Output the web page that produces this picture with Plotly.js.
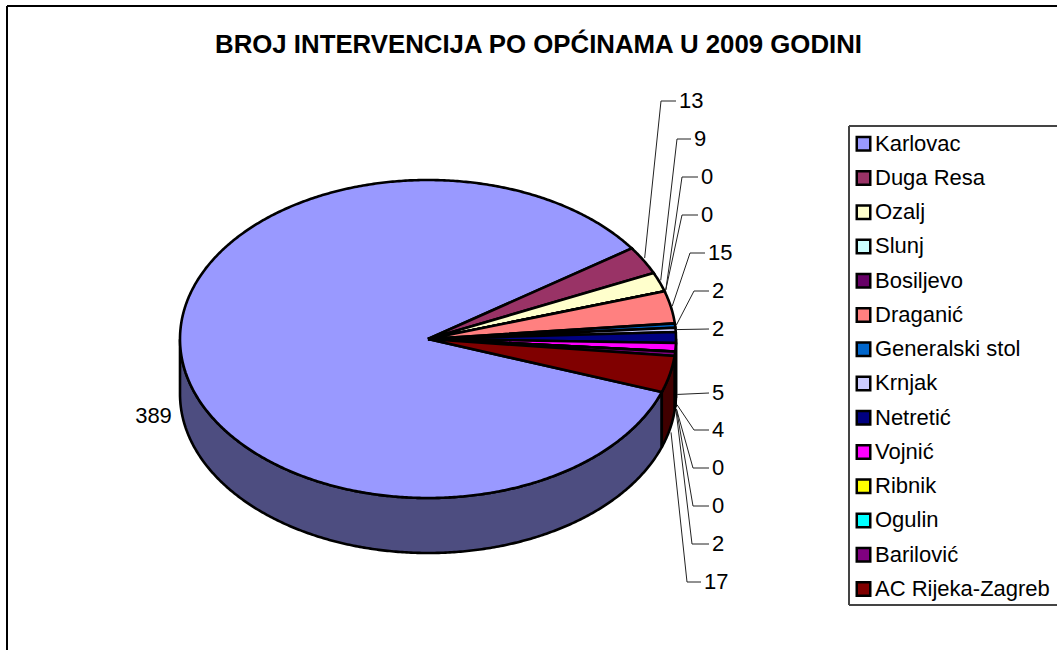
<!DOCTYPE html>
<html>
<head>
<meta charset="utf-8">
<script src="https://cdn.plot.ly/plotly-3.0.1.min.js"></script>
<style>html,body{margin:0;padding:0;background:#fff;overflow:hidden}#chart{width:1057px;height:650px}</style>
</head>
<body>
<div id="chart"></div>
<script>
const chartTitle = 'BROJ INTERVENCIJA PO OPĆINAMA U 2009 GODINI';
const categories = ['Karlovac','Duga Resa','Ozalj','Slunj','Bosiljevo','Draganić','Generalski stol','Krnjak','Netretić','Vojnić','Ribnik','Ogulin','Barilović','AC Rijeka-Zagreb'];
const values = [389,13,9,0,0,15,2,2,5,4,0,0,2,17];
const colors = ['#9999FF','#993366','#FFFFCC','#CCFFFF','#660066','#FF8080','#0066CC','#CCCCFF','#000080','#FF00FF','#FFFF00','#00FFFF','#800080','#800000'];
const wallColors = ['#4D4D80','#4D1A33','#808066','#668080','#330033','#804040','#003366','#666680','#000040','#800080','#808000','#008080','#400040','#400000'];

// Geometry of the tilted pie (screen pixels)
const cx = 428, cy = 339, rx = 248, ry = 159, depth = 55, startDeg = -19.5;
// Label placement: end of stub, elbow, and row per slice (Karlovac handled separately)
const labelRows  = [null,101,139,177,215,253,291,329,393,430,468,506,544,582];
const stubEnds   = [null,676,691,698,698,705,709,709,709,709,709,709,709,701];
const elbows     = [null,661,677,682,682,690,694,694,694,694,693,693,692,687];
const labelGap = 3, textDrop = 1.5;
const textFamily = 'Liberation Sans, Arial, sans-serif';

const rad = d => d * Math.PI / 180;
const px = (t, k=1) => cx + rx * k * Math.cos(rad(t));
const py = (t, k=1) => cy - ry * k * Math.sin(rad(t));

const total = values.reduce((a,b)=>a+b,0);
const spans = [];
let cursor = startDeg;
values.forEach(v => { const next = cursor - v / total * 360; spans.push([cursor,next]); cursor = next; });

function arc(a,b){
  const out=[]; const n=Math.max(1,Math.ceil(Math.abs(a-b)*2));
  for(let i=0;i<=n;i++) out.push(a+(b-a)*i/n);
  return out;
}
const traces=[];
const base={type:'scatter',mode:'lines',fill:'toself',hoverinfo:'skip',showlegend:false,xaxis:'x',yaxis:'y'};
const edge={color:'#000',width:2.6,simplify:false};

// side walls
spans.forEach((s,i)=>{
  const vis=arc(s[0],s[1]).filter(t=>Math.sin(rad(t))<=0.001);
  if(vis.length<2) return;
  const xs=vis.map(t=>px(t)), ys=vis.map(t=>py(t));
  const xb=vis.slice().reverse().map(t=>px(t)), yb=vis.slice().reverse().map(t=>py(t)+depth);
  traces.push(Object.assign({},base,{name:categories[i]+' wall',
    x:xs.concat(xb,[xs[0]]),y:ys.concat(yb,[ys[0]]),fillcolor:wallColors[i],line:edge}));
});
// top faces
spans.forEach((s,i)=>{
  const t=arc(s[0],s[1]);
  traces.push(Object.assign({},base,{name:categories[i],
    x:[cx].concat(t.map(a=>px(a)),[cx]),y:[cy].concat(t.map(a=>py(a)),[cy]),
    fillcolor:colors[i],line:edge,hoverinfo:'name'}));
});
// leader lines and value labels
values.forEach((v,i)=>{
  if(i===0) return;
  const mid=(spans[i][0]+spans[i][1])/2;
  const onWall=Math.sin(rad(mid))<0.035;
  const sx=px(mid,1.005), sy=py(mid,1.03)+(onWall?depth+2:0);
  const row=labelRows[i];
  const direct=(i===7||i===8);
  const xs = direct ? [sx,stubEnds[i]] : [sx,elbows[i],stubEnds[i]];
  const ys = direct ? [sy,row] : [sy,row,row];
  traces.push({type:'scatter',mode:'lines',x:xs,y:ys,hoverinfo:'skip',showlegend:false,
    line:{color:'#222',width:1,simplify:false}});
  traces.push({type:'scatter',mode:'text',x:[stubEnds[i]+labelGap],y:[row+textDrop],text:[String(v)],
    textposition:'middle right',textfont:{family:textFamily,size:22,color:'#000'},
    hoverinfo:'skip',showlegend:false});
});
traces.push({type:'scatter',mode:'text',x:[153.5],y:[416+textDrop],text:[String(values[0])],textposition:'middle center',
  textfont:{family:textFamily,size:22,color:'#000'},hoverinfo:'skip',showlegend:false});

// legend keys and names
const legendX=863.5, legendTextX=875, legendTop=143.7, legendStep=34.25;
const legendY=categories.map((c,i)=>legendTop+i*legendStep);
traces.push({type:'scatter',mode:'markers',x:categories.map(()=>legendX),y:legendY,hoverinfo:'skip',showlegend:false,
  marker:{symbol:'square',size:13.5,color:colors,line:{color:'#000',width:2.5}}});
traces.push({type:'scatter',mode:'text',x:categories.map(()=>legendTextX),y:legendY.map(y=>y+textDrop),text:categories,
  textposition:'middle right',textfont:{family:textFamily,size:22,color:'#000'},
  hoverinfo:'skip',showlegend:false});

const layout={
  width:1057,height:650,margin:{l:0,r:0,t:0,b:0,pad:0},paper_bgcolor:'#fff',plot_bgcolor:'#fff',showlegend:false,
  title:{text:chartTitle,x:538.5/1057,y:1-43.5/650,xanchor:'center',yanchor:'middle',
    font:{family:textFamily,size:25.8,color:'#000',weight:700}},
  xaxis:{range:[0,1057],visible:false,fixedrange:true},
  yaxis:{range:[650,0],visible:false,fixedrange:true},
  shapes:[
    {type:'line',xref:'x',yref:'y',x0:7,x1:1057,y0:6,y1:6,line:{color:'#000',width:2}},
    {type:'line',xref:'x',yref:'y',x0:7,x1:7,y0:6,y1:650,line:{color:'#000',width:2}},
    {type:'line',xref:'x',yref:'y',x0:849,x1:1057,y0:126,y1:126,line:{color:'#444',width:2}},
    {type:'line',xref:'x',yref:'y',x0:849,x1:849,y0:126,y1:605,line:{color:'#444',width:2}},
    {type:'line',xref:'x',yref:'y',x0:849,x1:1057,y0:605,y1:605,line:{color:'#444',width:2}}
  ]
};
Plotly.newPlot('chart',traces,layout,{displayModeBar:false,responsive:false});
</script>
</body>
</html>
